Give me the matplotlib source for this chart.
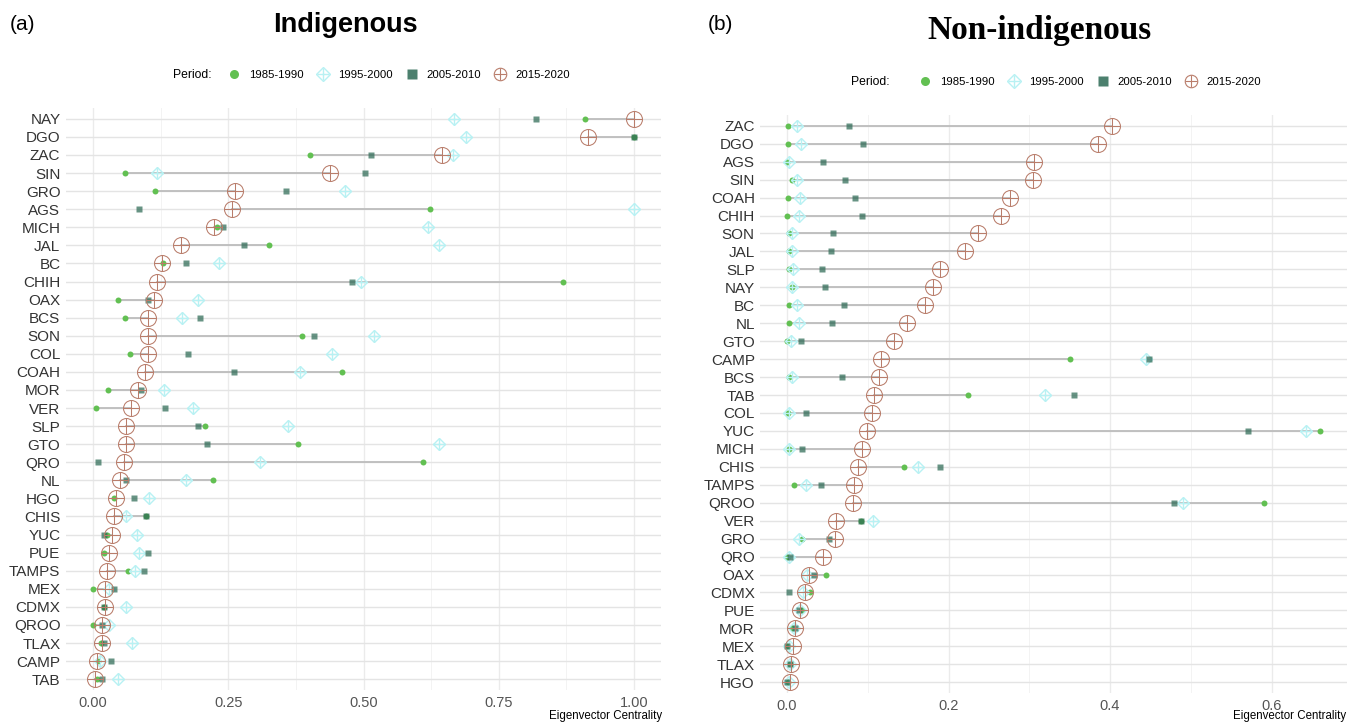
import numpy as np
import matplotlib
matplotlib.use('Agg')
import matplotlib.pyplot as plt
from matplotlib.lines import Line2D

plt.rcParams['font.family'] = ['Liberation Sans', 'DejaVu Sans']

# --- data: eigenvector centrality by state and period ---

periods = ['1985-1990', '1995-2000', '2005-2010', '2015-2020']

states_ind = ['NAY', 'DGO', 'ZAC', 'SIN', 'GRO', 'AGS', 'MICH', 'JAL', 'BC', 'CHIH', 'OAX', 'BCS',
              'SON', 'COL', 'COAH', 'MOR', 'VER', 'SLP', 'GTO', 'QRO', 'NL', 'HGO', 'CHIS', 'YUC',
              'PUE', 'TAMPS', 'MEX', 'CDMX', 'QROO', 'TLAX', 'CAMP', 'TAB']
ind_1985 = [0.909, 1.000, 0.401, 0.059, 0.115, 0.623, 0.230, 0.325, 0.130, 0.869, 0.046, 0.059,
            0.387, 0.068, 0.460, 0.028, 0.005, 0.207, 0.379, 0.610, 0.222, 0.039, 0.098, 0.025,
            0.020, 0.065, 0.000, 0.020, 0.000, 0.015, 0.010, 0.008]
ind_1995 = [0.667, 0.689, 0.665, 0.118, 0.466, 1.000, 0.619, 0.640, 0.233, 0.495, 0.194, 0.165,
            0.519, 0.442, 0.383, 0.131, 0.185, 0.360, 0.640, 0.309, 0.172, 0.104, 0.061, 0.081,
            0.085, 0.078, 0.030, 0.061, 0.030, 0.072, 0.012, 0.046]
ind_2005 = [0.819, 1.000, 0.514, 0.503, 0.357, 0.085, 0.240, 0.279, 0.172, 0.479, 0.102, 0.198,
            0.408, 0.176, 0.261, 0.089, 0.133, 0.194, 0.211, 0.009, 0.061, 0.076, 0.098, 0.020,
            0.101, 0.094, 0.039, 0.020, 0.017, 0.020, 0.033, 0.016]
ind_2015 = [1.000, 0.915, 0.645, 0.438, 0.262, 0.257, 0.224, 0.163, 0.128, 0.118, 0.113, 0.102,
            0.102, 0.102, 0.096, 0.083, 0.070, 0.061, 0.061, 0.057, 0.050, 0.043, 0.039, 0.035,
            0.030, 0.026, 0.022, 0.022, 0.017, 0.017, 0.007, 0.004]

states_non = ['ZAC', 'DGO', 'AGS', 'SIN', 'COAH', 'CHIH', 'SON', 'JAL', 'SLP', 'NAY', 'BC', 'NL',
              'GTO', 'CAMP', 'BCS', 'TAB', 'COL', 'YUC', 'MICH', 'CHIS', 'TAMPS', 'QROO', 'VER', 'GRO',
              'QRO', 'OAX', 'CDMX', 'PUE', 'MOR', 'MEX', 'TLAX', 'HGO']
non_1985 = [0.001, 0.001, 0.000, 0.006, 0.001, 0.000, 0.002, 0.002, 0.003, 0.006, 0.002, 0.002,
            0.000, 0.351, 0.002, 0.224, 0.001, 0.660, 0.002, 0.145, 0.008, 0.591, 0.092, 0.019,
            0.000, 0.048, 0.028, 0.019, 0.006, 0.000, 0.004, 0.001]
non_1995 = [0.012, 0.017, 0.002, 0.012, 0.016, 0.015, 0.006, 0.006, 0.007, 0.006, 0.012, 0.015,
            0.005, 0.445, 0.006, 0.319, 0.002, 0.643, 0.003, 0.162, 0.023, 0.490, 0.107, 0.015,
            0.002, 0.025, 0.020, 0.016, 0.008, 0.002, 0.004, 0.002]
non_2005 = [0.077, 0.094, 0.045, 0.072, 0.084, 0.093, 0.057, 0.054, 0.043, 0.047, 0.070, 0.056,
            0.017, 0.448, 0.068, 0.355, 0.023, 0.571, 0.019, 0.190, 0.042, 0.479, 0.092, 0.052,
            0.004, 0.034, 0.002, 0.015, 0.010, 0.000, 0.004, 0.000]
non_2015 = [0.402, 0.385, 0.306, 0.304, 0.276, 0.265, 0.236, 0.220, 0.189, 0.181, 0.171, 0.149,
            0.133, 0.116, 0.114, 0.108, 0.105, 0.099, 0.093, 0.088, 0.083, 0.082, 0.061, 0.059,
            0.045, 0.027, 0.022, 0.016, 0.010, 0.007, 0.005, 0.004]

# --- style ---
cGreen = '#62c052'
cCyan = '#b8f1f3'
cSquare = '#2d6a55'
cCircle = '#b97d6b'
cSeg = '#bdbdbd'


def draw_panel(ax, states, v85, v95, v05, v15, xticks, xlabels, xminor, xlim):
    y = np.arange(len(states))
    for yi, a, b in zip(y, v85, v15):
        ax.plot([a, b], [yi, yi], color=cSeg, lw=1.3, zorder=2)
    ax.plot(v85, y, 'o', color=cGreen, ms=4.3, mec='none', zorder=3)
    ax.plot(v95, y, 'D', mfc='none', mec=cCyan, ms=6, mew=1.0, zorder=3)
    ax.plot(v95, y, '+', color=cCyan, ms=8, mew=1.0, zorder=3)
    ax.plot(v05, y, 's', color=cSquare, ms=4.8, mec='none', alpha=0.72, zorder=4)
    ax.plot(v15, y, 'o', mfc='none', mec=cCircle, ms=11.5, mew=0.75, zorder=5)
    ax.plot(v15, y, '+', color=cCircle, ms=11.5, mew=0.75, zorder=5)

    ax.set_yticks(y)
    ax.set_yticklabels(states, fontsize=11, color='#333333')
    ax.set_ylim(len(states) - 0.4, -0.6)
    ax.set_xlim(*xlim)
    ax.set_xticks(xticks)
    ax.set_xticklabels(xlabels, fontsize=10.5, color='#555555')
    ax.set_xticks(xminor, minor=True)
    ax.tick_params(length=0, pad=4, which='both')
    ax.grid(axis='y', color='#e4e4e4', lw=1.0, zorder=0)
    ax.grid(axis='x', which='major', color='#ebebeb', lw=1.0, zorder=0)
    ax.grid(axis='x', which='minor', color='#f3f3f3', lw=0.7, zorder=0)
    ax.set_axisbelow(True)
    for spine in ('top', 'right', 'bottom', 'left'):
        ax.spines[spine].set_visible(False)


fig = plt.figure(figsize=(13.51, 7.23), dpi=100)
W, H = 1351.0, 723.0

axL = fig.add_axes([66 / W, 1 - 690 / H, 595 / W, 582 / H])
draw_panel(axL, states_ind, ind_1985, ind_1995, ind_2005, ind_2015,
           [0, 0.25, 0.5, 0.75, 1.0], ['0.00', '0.25', '0.50', '0.75', '1.00'],
           [0.125, 0.375, 0.625, 0.875], (-0.05, 1.05))

axR = fig.add_axes([760.4 / W, 1 - 693 / H, 586.2 / W, 578 / H])
draw_panel(axR, states_non, non_1985, non_1995, non_2005, non_2015,
           [0, 0.2, 0.4, 0.6], ['0.0', '0.2', '0.4', '0.6'],
           [0.1, 0.3, 0.5], (-0.033, 0.693))

# titles
fig.text(10 / W, 1 - 25 / H, '(a)', fontsize=15, va='center', ha='left')
fig.text(345 / W, 1 - 25 / H, 'Indigenous', fontsize=19.5, fontweight='bold', va='center', ha='center')
fig.text(708 / W, 1 - 25 / H, '(b)', fontsize=15, va='center', ha='left')
fig.text(1040 / W, 1 - 30 / H, 'Non-indigenous', fontsize=24, fontweight='bold', va='center',
         ha='center', family=['Liberation Serif', 'DejaVu Serif'])

fig.text(662 / W, 1 - 716 / H, 'Eigenvector Centrality', fontsize=8.3, ha='right', va='center')
fig.text(1346 / W, 1 - 716 / H, 'Eigenvector Centrality', fontsize=8.3, ha='right', va='center')

# legends
handles = [
    Line2D([], [], ls='none', marker='o', color=cGreen, ms=6.5, mec='none'),
    (Line2D([], [], ls='none', marker='D', mfc='none', mec=cCyan, ms=7, mew=1.0),
     Line2D([], [], ls='none', marker='+', color=cCyan, ms=9, mew=1.0)),
    Line2D([], [], ls='none', marker='s', color=cSquare, ms=6.5, mec='none', alpha=0.85),
    (Line2D([], [], ls='none', marker='o', mfc='none', mec=cCircle, ms=9, mew=0.8),
     Line2D([], [], ls='none', marker='+', color=cCircle, ms=9, mew=0.8)),
]
for px, lx, ly in [(173, 398, 75), (851, 1089, 82)]:
    fig.text(px / W, 1 - ly / H, 'Period:', fontsize=8.7, va='center', ha='left')
    fig.legend(handles, periods, ncol=4, loc='center', bbox_to_anchor=(lx / W, 1 - ly / H),
               frameon=False, fontsize=8.2, handlelength=1.4, handletextpad=0.6,
               columnspacing=1.0, borderpad=0)

plt.savefig('out.png', dpi=100)
